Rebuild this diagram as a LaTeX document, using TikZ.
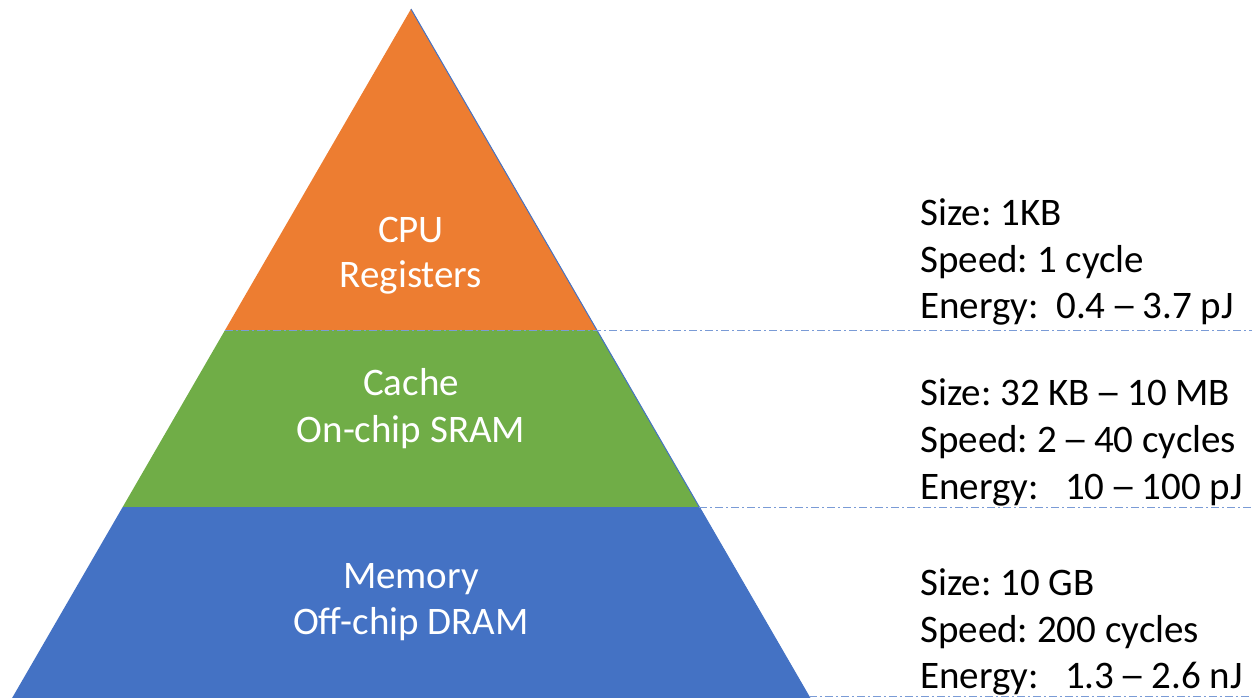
\documentclass[tikz,border=0pt]{standalone}
\usepackage{fontspec}
\usepackage{graphicx}
\setmainfont{Carlito}
\frenchspacing
% a range dash with the usual advance but a longer stroke
\newcommand\rangedash{\makebox[0.5em][c]{\scalebox{1.35}[1]{–}}}
\definecolor{regorange}{HTML}{ED7D31}
\definecolor{cachegreen}{HTML}{70AD47}
\definecolor{dramblue}{HTML}{4472C4}
\definecolor{guideblue}{HTML}{7A9BD6}
\begin{document}
\begin{tikzpicture}[x=1pt,y=-1pt,
  layerlabel/.style={text=white,anchor=base,inner sep=0pt,font=\fontsize{39}{46}\selectfont},
  specline/.style={text=black,anchor=base west,inner sep=0pt,font=\fontsize{39}{46}\selectfont},
  guide/.style={draw=guideblue,line width=1pt,dash pattern=on 8pt off 3pt on 2pt off 3pt}]
\useasboundingbox (0,0) rectangle (1252,698);
\begin{scope}
\clip (0,0) rectangle (1252,698);
% corner points of the pyramid and its layer boundaries
\coordinate (apex) at (411,9);
\coordinate (l1) at (225.1,330);
\coordinate (r1) at (596.9,330);
\coordinate (l2) at (122.7,507);
\coordinate (r2) at (699.3,507);
\coordinate (l3) at (12.1,698);
\coordinate (r3) at (809.9,698);
\coordinate (r3a) at (808.8,696);
\coordinate (e1) at (1252,330);
\coordinate (e2) at (1252,507);
\coordinate (e3) at (1252,696);
% layers
\fill[regorange] (apex) -- (r1) -- (l1) -- cycle;
\fill[cachegreen] (l1) -- (r1) -- (r2) -- (l2) -- cycle;
\fill[dramblue] (l2) -- (r2) -- (r3) -- (l3) -- cycle;
% outline on the right flank
\draw[dramblue,line width=1pt] (apex) -- (r3);
% guide lines out to the specs
\draw[guide] (l1) -- (e1);
\draw[guide] (r2) -- (e2);
\draw[guide] (r3a) -- (e3);
\end{scope}
% layer names
\node[layerlabel] (cpu) at (411,242) {CPU};
\node[layerlabel] (reg) at (411,287) {Registers};
\node[layerlabel] (cache) at (411,395) {Cache};
\node[layerlabel] (sram) at (411,442) {On-chip SRAM};
\node[layerlabel] (mem) at (411,588) {Memory};
\node[layerlabel] (dram) at (411,634) {Off-chip DRAM};
% specs of each level
\node[specline] (s1) at (920,225) {Size: 1KB};
\node[specline] (p1) at (920,272) {Speed: 1 cycle};
\node[specline] (n1) at (920,318) {Energy:\ \ 0.4 \rangedash{} 3.7 pJ};
\node[specline] (s2) at (920,405) {Size: 32 KB \rangedash{} 10 MB};
\node[specline] (p2) at (920,452) {Speed: 2 \rangedash{} 40 cycles};
\node[specline] (n2) at (920,499) {Energy:\ \ \ 10 \rangedash{} 100 pJ};
\node[specline] (s3) at (920,595) {Size: 10 GB};
\node[specline] (p3) at (920,642) {Speed: 200 cycles};
\node[specline] (n3) at (920,688) {Energy:\ \ \ 1.3 \rangedash{} 2.6 nJ};
\end{tikzpicture}
\end{document}
